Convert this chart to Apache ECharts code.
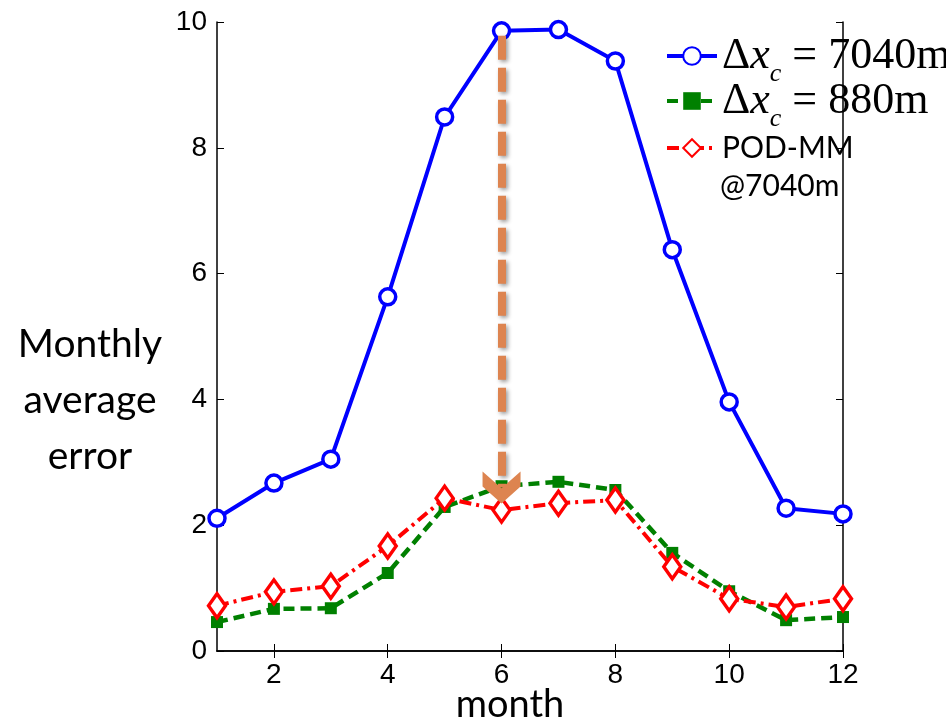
<!DOCTYPE html>
<html><head><meta charset="utf-8">
<script src="https://cdn.jsdelivr.net/npm/echarts@6/dist/echarts.min.js"></script>
<style>html,body{margin:0;padding:0;background:#fff}#c{width:946px;height:724px}</style>
</head><body><div id="c"></div>
<script>
const months = [1,2,3,4,5,6,7,8,9,10,11,12];
const coarse7040 = [2.11,2.67,3.05,5.63,8.49,9.86,9.88,9.38,6.38,3.96,2.27,2.18];
const fine880 = [0.46,0.67,0.68,1.24,2.29,2.62,2.69,2.56,1.56,0.95,0.49,0.54];
const podmm = [0.72,0.94,1.03,1.67,2.43,2.24,2.35,2.40,1.34,0.83,0.70,0.83];
const xTicks = [2,4,6,8,10,12];
const arrowFrom = [6, 9.78];
const arrowTo = [6, 2.6];

const pair = (ys) => months.map((m,i)=>[m, ys[i]]);
const sans = '"Liberation Sans", Arial, sans-serif';
const gothic = 'Lato, "Noto Sans", sans-serif';
const serif = '"Liberation Serif", "DejaVu Serif", serif';

const mathRich = {
  d:{fontFamily:serif,fontSize:44,color:'#000',lineHeight:42},
  x:{fontFamily:serif,fontSize:44,fontStyle:'italic',color:'#000',lineHeight:42},
  c:{fontFamily:serif,fontSize:26,fontStyle:'italic',color:'#000',lineHeight:42,verticalAlign:'bottom',padding:[0,0,-10,0]},
  e:{fontFamily:serif,fontSize:44,color:'#000',lineHeight:42}
};
const legendBase = {left:660, orient:'vertical', itemWidth:50, itemHeight:22,
  formatter:function(n){
    if(n==='c7040') return '{d|Δ}{x|x}{c|c}{e| = 7040m}';
    if(n==='c880') return '{d|Δ}{x|x}{c|c}{e| = 880m}';
    return 'POD-MM';
  },
  lineStyle:{width:4},
  textStyle:{rich:mathRich,color:'#000'}};

const chart = echarts.init(document.getElementById('c'));
const axisLine = {show:true,lineStyle:{color:'#000',width:1.5}};
chart.setOption({
  animation:false,
  backgroundColor:'#fff',
  grid:{left:217,top:22,right:103,bottom:73,containLabel:false},
  xAxis:[
    {type:'value',min:1,max:12,position:'bottom',
     axisLine, splitLine:{show:false},
     axisTick:{show:true,inside:true,length:7,customValues:xTicks,lineStyle:{color:'#000'}},
     axisLabel:{customValues:xTicks,fontFamily:sans,fontSize:28,color:'#000',margin:10}},
    {type:'value',min:1,max:12,position:'top',
     axisLine, splitLine:{show:false},
     axisTick:{show:true,inside:true,length:7,customValues:xTicks,lineStyle:{color:'#000'}},
     axisLabel:{show:false}}
  ],
  yAxis:[
    {type:'value',min:0,max:10,interval:2,position:'left',
     axisLine, splitLine:{show:false},
     axisTick:{show:true,inside:true,length:7,lineStyle:{color:'#000'}},
     axisLabel:{fontFamily:sans,fontSize:28,color:'#000',margin:10}},
    {type:'value',min:0,max:10,interval:2,position:'right',
     axisLine, splitLine:{show:false},
     axisTick:{show:true,inside:true,length:7,lineStyle:{color:'#000'}},
     axisLabel:{show:false}}
  ],
  legend:[
    Object.assign({}, legendBase, {top:29, data:['c7040']}),
    Object.assign({}, legendBase, {top:74, data:['c880']}),
    Object.assign({}, legendBase, {top:125, data:[{name:'pod',textStyle:{fontFamily:gothic,fontSize:30,color:'#000',lineHeight:36}}]})
  ],
  graphic:[
    {type:'text',left:720,top:171,style:{text:'@7040m',font:'30px '+gothic,fill:'#000'}},
    {type:'text',x:90,y:316,style:{text:'Monthly\naverage\nerror',font:'39px '+gothic,fill:'#000',textAlign:'center',lineHeight:56}},
    {type:'text',x:510,y:686,style:{text:'month',font:'38px '+gothic,fill:'#000',textAlign:'center'}}
  ],
  series:[
    {name:'c7040',type:'line',data:pair(coarse7040),color:'#0000ff',
     lineStyle:{width:4,color:'#0000ff'},symbol:'circle',symbolSize:16,
     itemStyle:{color:'#ffffff',borderColor:'#0000ff',borderWidth:3.5},z:2},
    {name:'c880',type:'line',data:pair(fine880),color:'#008000',
     lineStyle:{width:4.5,type:[11,6],color:'#008000'},symbol:'rect',symbolSize:12,
     itemStyle:{color:'#008000'},z:3},
    {name:'pod',type:'line',data:pair(podmm),color:'#ff0000',
     lineStyle:{width:4,type:[12,5,3,5],color:'#ff0000'},symbol:'diamond',symbolSize:[17,24],
     itemStyle:{color:'#ffffff',borderColor:'#ff0000',borderWidth:3.5},z:4,
     markLine:{
       silent:true,z:10,
       symbol:['none','path://M10,0 L20,10 L20,19 L10,9 L0,19 L0,10 Z'],
       symbolSize:[38,32],
       label:{show:false},
       lineStyle:{type:[24,8],width:8,color:'#dd8450',opacity:1,shadowBlur:4,shadowColor:'rgba(0,0,0,0.4)',shadowOffsetX:2,shadowOffsetY:2},
       data:[[{coord:arrowFrom},{coord:arrowTo}]]
     }}
  ]
});
</script></body></html>
